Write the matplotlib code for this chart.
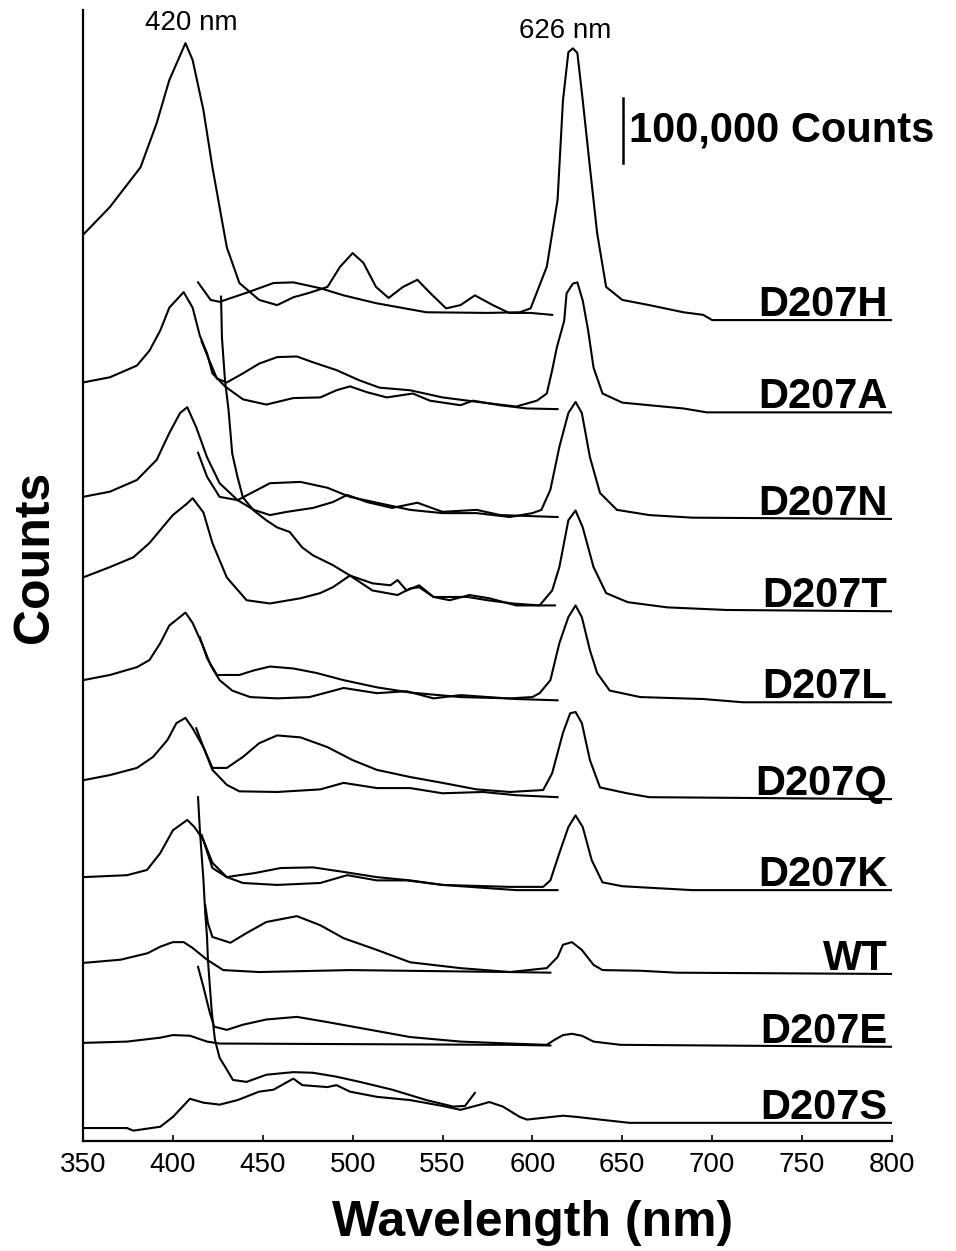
import matplotlib
matplotlib.use("Agg")
import matplotlib.pyplot as plt

# Stacked excitation / emission spectra, intensities in thousands of counts
# above each sample's own baseline.

samples = ["D207H", "D207A", "D207N", "D207T", "D207L", "D207Q", "D207K", "WT", "D207E", "D207S"]
offsets = [1263, 1121, 957, 815, 675, 526, 386, 257, 145, 28]

# D207H
h_ex_wl = [350, 365, 382, 391, 398, 407, 411, 417, 422, 430, 437, 448, 458, 467, 476, 486, 493, 500,
           506, 513, 520, 528, 536, 543, 552, 560, 568, 578, 587, 599, 611]
h_ex_k = [131, 174, 235, 303, 369, 426, 400, 323, 235, 112, 57, 31, 23, 35, 42, 51, 82, 103,
          88, 51, 34, 51, 62, 42, 18, 23, 38, 23, 11, 11, 8]
h_em_wl = [414, 421, 426, 441, 456, 467, 482, 495, 513, 541, 575, 593, 599, 608, 614, 617, 620, 622.5,
           625, 628, 632, 636, 641, 650, 665, 684, 695, 700, 800]
h_em_k = [58, 31, 28, 42, 57, 58, 49, 38, 26, 12, 11, 12, 18, 82, 185, 338, 412, 418,
          411, 338, 235, 134, 51, 31, 23, 12, 8, 0, 0]

# D207A
a_ex_wl = [350, 365, 380, 387, 393, 398, 406, 411, 415, 419, 422, 429, 439, 452, 467, 482, 491, 498.5,
           508, 519, 533.5, 543, 560, 567, 582, 597, 614]
a_ex_k = [46, 54, 72, 95, 126, 161, 185, 161, 118, 91, 60, 40, 20, 12, 22, 23, 34, 40,
          31, 23, 29, 18, 11, 18, 11, 6, 5]
a_em_wl = [416, 419.5, 424.5, 430, 439, 448, 458, 469, 478, 491, 504, 515, 532, 550, 572.5, 591, 602.5,
           608, 611, 613.6, 617.7, 619, 622.5, 625, 628, 631, 634, 639, 650, 665, 684, 697, 800]
a_em_k = [109, 85, 52, 46, 60, 75, 85, 86, 77, 65, 49, 38, 34, 23, 15, 9, 18,
          29, 65, 100, 141, 183, 198, 200, 172, 126, 69, 29, 15, 11, 6, 0, 0]

# D207N
n_ex_wl = [350, 365, 380, 391, 398, 404, 408, 413, 419, 426, 436, 445, 454, 463.5, 478, 489, 497,
           508, 522, 536, 550, 569, 582, 614]
n_ex_k = [34, 42, 60, 91, 132, 163, 172, 141, 95, 55, 29, 14, 6, 11, 17, 26, 37,
          26, 17, 25, 11, 14, 6, 3]
n_em_wl = [414, 419, 426, 436, 445, 454, 471, 486, 498.5, 513.5, 532, 550, 569, 587.5, 600, 605, 610,
           615, 620, 624, 627.5, 632, 637.6, 647, 665, 689, 800]
n_em_k = [102, 65, 34, 29, 42, 55, 57, 48, 34, 25, 14, 9, 9, 3, 9, 14, 45,
          111, 163, 180, 163, 95, 40, 14, 6, 2, 0]

# D207T
t_ex_wl = [350, 365, 378, 387, 393, 400, 408, 411, 417, 422, 430, 441, 454, 471, 482, 489, 498.5,
           511, 525, 532, 537, 545, 554, 565, 576, 591, 612.5]
t_ex_k = [52, 68, 83, 105, 125, 148, 166, 174, 152, 105, 52, 17, 12, 20, 28, 37, 55,
          32, 25, 35, 37, 22, 17, 25, 20, 9, 9]
t_em_wl = [426.8, 427.3, 429, 431, 433, 436, 439, 445, 452, 458, 465, 472, 478, 489, 498.5, 511, 521,
           525, 530, 537, 545, 564, 575, 589, 604, 611, 615, 620, 624, 628, 634, 641, 653, 675, 708, 800]
t_em_k = [484, 421, 355, 309, 243, 206, 175, 155, 140, 129, 122, 98, 86, 71, 55, 43, 40,
          48, 32, 40, 22, 22, 17, 12, 9, 32, 68, 140, 155, 129, 68, 28, 14, 6, 2, 0]

# D207L
l_ex_wl = [350, 365, 380, 387, 393, 398, 407, 411, 417, 421, 426, 433, 443, 458, 476, 495, 513.5,
           530, 545, 560, 591, 614]
l_ex_k = [34, 42, 54, 65, 91, 118, 138, 122, 85, 57, 34, 18, 8, 6, 8, 22, 14,
          17, 6, 11, 5, 3]
l_em_wl = [415, 419, 424.5, 437, 445, 454, 467, 480, 495, 513.5, 532, 560, 587.5, 600, 604, 610,
           615, 620, 624, 627.5, 632, 636, 643, 660, 695, 717, 800]
l_em_k = [100, 68, 42, 42, 49, 55, 52, 45, 34, 23, 15, 8, 6, 8, 14, 34,
          91, 131, 149, 131, 80, 45, 18, 8, 5, 0, 0]

# D207Q
q_ex_wl = [350, 365, 380, 389, 397, 402, 407, 411, 417, 422, 430, 437, 458, 482, 495, 513.5,
           532, 550, 572.5, 591, 614]
q_ex_k = [29, 37, 48, 65, 91, 117, 125, 109, 80, 45, 22, 12, 11, 15, 25, 17,
          17, 9, 11, 6, 3]
q_em_wl = [413, 417, 422, 430, 439, 448, 458, 471, 486, 500, 513.5, 532, 550, 569, 587.5, 606,
           611, 617, 621, 624, 627.5, 632, 637.6, 652.6, 665, 800]
q_em_k = [109, 80, 48, 48, 65, 86, 98, 95, 80, 60, 45, 34, 25, 15, 11, 14,
          40, 102, 132, 134, 117, 60, 18, 9, 3, 0]

# D207K
k_ex_wl = [350, 374.5, 385.6, 393, 400, 408, 412, 417, 422, 430, 439, 458, 482, 497, 513.5,
           530, 550, 591, 614]
k_ex_k = [20, 23, 31, 57, 92, 108, 97, 77, 42, 20, 11, 8, 11, 23, 15,
          15, 8, 0, 0]
k_em_wl = [416, 422, 430, 437, 445, 460, 478, 495, 513.5, 532, 550, 587.5, 606, 610, 615, 620,
           624, 628, 633, 639, 650, 689, 800]
k_em_k = [85, 34, 20, 23, 26, 34, 35, 28, 20, 15, 8, 5, 5, 15, 57, 97,
          115, 97, 46, 12, 6, 0, 0]

# WT
wt_ex_wl = [350, 371, 386, 393, 400, 406, 411, 419, 428, 448, 498.5, 587.5, 610]
wt_ex_k = [17, 22, 32, 42, 49, 49, 40, 22, 6, 3, 6, 3, 2]
wt_em_wl = [418, 419.5, 422, 432, 441, 452, 469, 482, 495, 513.5, 532, 560, 587.5, 608, 614, 617,
            622, 627.5, 634, 639, 660, 680, 800]
wt_em_k = [106, 78, 57, 48, 63, 80, 89, 75, 55, 37, 18, 9, 3, 9, 26, 45,
           49, 37, 14, 6, 5, 2, 0]

# D207E
e_ex_wl = [350, 374.5, 393, 400, 409.5, 419, 426, 587.5, 610]
e_ex_k = [6, 8, 14, 18, 17, 8, 5, 3, 2]
e_em_wl = [414, 417, 420.6, 423, 430, 439, 452, 469, 486, 504, 532, 560, 587.5, 608, 612.5, 617,
           622, 627.5, 634, 649, 800]
e_em_k = [123, 92, 52, 31, 26, 34, 42, 46, 38, 29, 15, 8, 5, 3, 11, 18,
          20, 17, 8, 3, 0]

# D207S
s_ex_wl = [350, 374.5, 378, 393, 400, 409.5, 417, 426, 436, 448, 456, 467, 472, 486, 491, 498.5,
           513.5, 532, 550, 560, 571, 576, 583.6, 593, 597, 617, 625, 637.6, 654, 800]
s_ex_k = [-8, -8, -12, -6, 9, 37, 31, 28, 35, 48, 51, 68, 58, 55, 58, 48,
          40, 35, 26, 20, 28, 32, 25, 9, 5, 11, 9, 5, 0, 0]
s_em_wl = [414, 415, 417, 418, 419, 419.5, 420.6, 421.7, 423.4, 426, 430, 433.4, 441, 452, 467,
           478, 491, 504, 522, 541, 556, 562.5, 568]
s_em_k = [501, 451, 374, 323, 286, 251, 209, 169, 128, 100, 82, 66, 63, 74, 78,
          77, 71, 63, 51, 35, 25, 26, 46]

spectra = [
    (h_ex_wl, h_ex_k, h_em_wl, h_em_k),
    (a_ex_wl, a_ex_k, a_em_wl, a_em_k),
    (n_ex_wl, n_ex_k, n_em_wl, n_em_k),
    (t_ex_wl, t_ex_k, t_em_wl, t_em_k),
    (l_ex_wl, l_ex_k, l_em_wl, l_em_k),
    (q_ex_wl, q_ex_k, q_em_wl, q_em_k),
    (k_ex_wl, k_ex_k, k_em_wl, k_em_k),
    (wt_ex_wl, wt_ex_k, wt_em_wl, wt_em_k),
    (e_ex_wl, e_ex_k, e_em_wl, e_em_k),
    (s_ex_wl, s_ex_k, s_em_wl, s_em_k),
]

# scale bar (100,000 counts) and peak markers
bar_wl = 650.3
bar_base = 1504
bar_len = 100
peak_labels = [("420 nm", 410, 1720), ("626 nm", 618, 1707)]

label_font = "Liberation Sans"

fig = plt.figure(figsize=(9.56, 12.51), dpi=100)
ax = fig.add_axes([0.0868, 0.0879, 0.8462, 0.9041])

for name, off, (xw, xk, mw, mk) in zip(samples, offsets, spectra):
    ax.plot(xw, [v + off for v in xk], color="black", lw=1.5, solid_joinstyle="round")
    ax.plot(mw, [v + off for v in mk], color="black", lw=1.5, solid_joinstyle="round")
    ax.text(797.5, off + 6, name, ha="right", va="baseline", fontsize=30,
            fontweight="bold", family=label_font)

for txt, wl, yv in peak_labels:
    ax.text(wl, yv, txt, ha="center", va="center", fontsize=20, family=label_font)

ax.plot([bar_wl, bar_wl], [bar_base, bar_base + bar_len], color="black", lw=1.8)
ax.text(bar_wl + 3.5, bar_base + bar_len / 2, "100,000 Counts", ha="left", va="center",
        fontsize=30, fontweight="bold", family=label_font)

ax.set_xlim(350, 800)
ax.set_ylim(0, 1740)
ax.set_xticks(range(350, 801, 50))
ax.set_yticks([])
ax.tick_params(axis="x", direction="in", length=4, width=1.2, pad=8, labelsize=20)
for lbl in ax.get_xticklabels():
    lbl.set_family(label_font)

ax.spines["top"].set_visible(False)
ax.spines["right"].set_visible(False)
ax.spines["left"].set_linewidth(1.6)
ax.spines["bottom"].set_linewidth(1.6)

fig.text(533 / 956, 0.012, "Wavelength (nm)", ha="center", va="baseline", fontsize=36,
         fontweight="bold", family=label_font)
fig.text(35 / 956, 1 - 557 / 1251, "Counts", ha="center", va="center", rotation=90,
         fontsize=36, fontweight="bold", family=label_font)

fig.savefig("out.png", dpi=100)
